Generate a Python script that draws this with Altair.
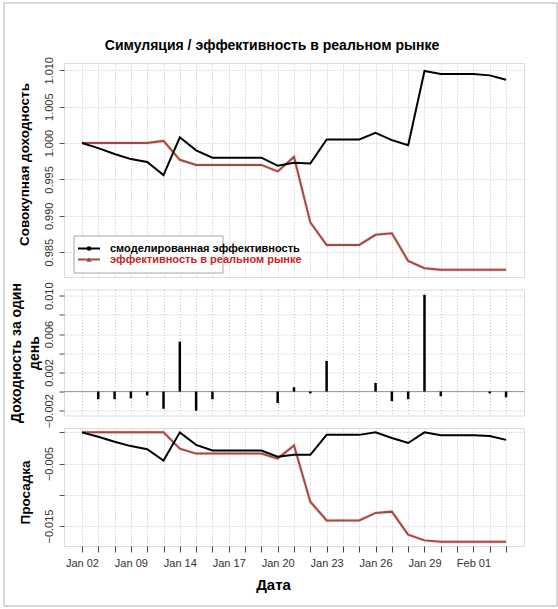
import json
import altair as alt
import pandas as pd

# ---------------- data ----------------
dates = ["Jan 02", "Jan 03", "Jan 07", "Jan 09", "Jan 10", "Jan 11", "Jan 14",
         "Jan 15", "Jan 16", "Jan 17", "Jan 18", "Jan 19", "Jan 20", "Jan 21",
         "Jan 22", "Jan 23", "Jan 24", "Jan 25", "Jan 26", "Jan 27", "Jan 28",
         "Jan 29", "Jan 30", "Jan 31", "Feb 01", "Feb 02", "Feb 03"]

sim_cum = [1.0000, 0.9993, 0.9985, 0.9978, 0.9974, 0.9956, 1.0008, 0.9990,
           0.9980, 0.9980, 0.9980, 0.9980, 0.9969, 0.9973, 0.9972, 1.0005,
           1.0005, 1.0005, 1.0014, 1.0004, 0.9997, 1.0099, 1.0095, 1.0095,
           1.0095, 1.0093, 1.0087]

real_cum = [1.0000, 1.0000, 1.0000, 1.0000, 1.0000, 1.0003, 0.9977, 0.9970,
            0.9970, 0.9970, 0.9970, 0.9970, 0.9961, 0.9981, 0.9891, 0.9860,
            0.9860, 0.9860, 0.9874, 0.9876, 0.9838, 0.9828, 0.9826, 0.9826,
            0.9826, 0.9826, 0.9826]

sim_ret = [None, -0.0008, -0.0008, -0.0007, -0.0004, -0.0018, 0.0052, -0.0020,
           -0.0008, 0.0, 0.0, 0.0, -0.0012, 0.00045, -0.0002, 0.0032,
           0.0, 0.0, 0.0009, -0.0010, -0.0008, 0.0101, -0.0005, 0.0,
           0.0, -0.0002, -0.0006]

sim_dd = [0.0, -0.0007, -0.0015, -0.0022, -0.0027, -0.0045, 0.0, -0.0020,
          -0.0029, -0.0029, -0.0029, -0.0029, -0.0039, -0.0036, -0.0036, -0.0004,
          -0.0004, -0.0004, 0.0, -0.0009, -0.0017, 0.0, -0.00045, -0.00045,
          -0.00045, -0.0006, -0.0012]

real_dd = [0.0, 0.0, 0.0, 0.0, 0.0, 0.0, -0.0026, -0.0034,
           -0.0034, -0.0034, -0.0034, -0.0034, -0.0042, -0.0021, -0.0111, -0.0141,
           -0.0141, -0.0141, -0.0129, -0.0127, -0.0164, -0.0173, -0.0175, -0.0175,
           -0.0175, -0.0175, -0.0175]

legend_labels = ["смоделированная эффективность", "эффективность в реальном рынке"]
title_text = "Симуляция / эффективность в реальном рынке"
y_titles = ["Совокупная доходность", ["Доходность за один", "день"], "Просадка"]
x_title = "Дата"

cum_ticks = [0.985, 0.990, 0.995, 1.000, 1.005, 1.010]
ret_ticks = [-0.002, 0.0, 0.002, 0.004, 0.006, 0.008, 0.010]
dd_ticks = [0.0, -0.005, -0.010, -0.015]

# ---------------- build ----------------
n = len(dates)
df = pd.DataFrame({
    "idx": list(range(n)),
    "date": dates,
    "sim_cum": sim_cum,
    "real_cum": real_cum,
    "sim_ret": sim_ret,
    "sim_dd": sim_dd,
    "real_dd": real_dd,
})

FONT = "Liberation Sans"
RED = "#a14a43"
HALO = "#f0b8b8"
LEG_RED = "#cc2222"
W = 460
H1, H2, H3 = 214, 126, 118

xscale = alt.Scale(domain=[-1.1, n + 0.1], nice=False, zero=False)
grid_kw = dict(grid=True, gridDash=[1, 2], gridColor="#c4c4c4", gridWidth=1)

x_plain = alt.X("idx:Q", scale=xscale,
                axis=alt.Axis(values=list(range(n)), labels=False, ticks=False,
                              domain=False, title=None, **grid_kw))

label_expr = ("datum.value % 3 == 0 ? " + json.dumps(dates, ensure_ascii=False)
              + "[datum.value] : ''")
x_bottom = alt.X("idx:Q", scale=xscale,
                 axis=alt.Axis(values=list(range(n)), labelExpr=label_expr,
                               labelOverlap=False, labelFlush=False,
                               ticks=True, tickSize=6, tickColor="#444",
                               labelPadding=5, labelFontSize=11, labelColor="#333",
                               labelFont=FONT, domain=False,
                               title=x_title, titleFont=FONT, titleFontSize=15,
                               titleFontWeight="bold", titleColor="#000",
                               titleX=209, titleY=38, titleBaseline="middle",
                               titleAlign="center", **grid_kw))


def yaxis(values, title, title_x, title_y, label_expr=None, fmt=".3f", size=13.5):
    kw = dict(values=values, format=fmt, labelAngle=270, labelAlign="center",
              labelBaseline="bottom", labelPadding=5, tickSize=5, tickColor="#555",
              labelColor="#333", labelFont=FONT, labelFontSize=11,
              labelOverlap=False, domain=False,
              title=title, titleAngle=270, titleAlign="center",
              titleBaseline="middle", titleFont=FONT, titleFontSize=size,
              titleFontWeight="bold", titleColor="#000",
              titleX=title_x, titleY=title_y, titleLineHeight=18, **grid_kw)
    if label_expr:
        kw["labelExpr"] = label_expr
    return alt.Axis(**kw)


one = pd.DataFrame({"z": [0]})

# ---- panel 1: cumulative return ----
y1_scale = alt.Scale(domain=[0.9816, 1.0110], nice=False, zero=False)
y1_axis = yaxis(cum_ticks, y_titles[0], -40, H1 / 2 - 6)

frame = alt.Chart(one).mark_rect(fillOpacity=0, stroke="#b0b0b0", strokeWidth=1).encode(
    x=alt.value(-60), x2=alt.value(493), y=alt.value(-60), y2=alt.value(543))

base1 = alt.Chart(df)
real_halo1 = base1.mark_line(color=HALO, strokeWidth=4, opacity=0.35).encode(
    x=x_plain, y=alt.Y("real_cum:Q", scale=y1_scale, axis=y1_axis))
real_line1 = base1.mark_line(color=RED, strokeWidth=2).encode(
    x=x_plain, y=alt.Y("real_cum:Q", scale=y1_scale, axis=y1_axis))
sim_line1 = base1.mark_line(color="#000", strokeWidth=2).encode(
    x=x_plain, y=alt.Y("sim_cum:Q", scale=y1_scale, axis=y1_axis))

leg_box = alt.Chart(one).mark_rect(fill="white", stroke="#a8a8a8", strokeWidth=1).encode(
    x=alt.value(10), x2=alt.value(159), y=alt.value(173), y2=alt.value(210))
leg1_df = pd.DataFrame({"label": [legend_labels[0]]})
leg2_df = pd.DataFrame({"label": [legend_labels[1]]})
leg1_line = alt.Chart(leg1_df).mark_rule(color="#000", strokeWidth=2).encode(
    x=alt.value(14), x2=alt.value(36), y=alt.value(185.5))
leg1_pt = alt.Chart(leg1_df).mark_point(filled=True, shape="circle", size=22,
                                        color="#000", opacity=1).encode(
    x=alt.value(25), y=alt.value(185.5))
leg1_txt = alt.Chart(leg1_df).mark_text(align="left", baseline="middle", font=FONT,
                                        fontSize=11, fontWeight="bold",
                                        color="#000").encode(
    x=alt.value(46), y=alt.value(185.5), text="label:N")
leg2_line = alt.Chart(leg2_df).mark_rule(color=RED, strokeWidth=2).encode(
    x=alt.value(14), x2=alt.value(36), y=alt.value(196.5))
leg2_pt = alt.Chart(leg2_df).mark_point(filled=True, shape="triangle-up", size=26,
                                        color=RED, opacity=1).encode(
    x=alt.value(25), y=alt.value(196.5))
leg2_txt = alt.Chart(leg2_df).mark_text(align="left", baseline="middle", font=FONT,
                                        fontSize=11, fontWeight="bold",
                                        color=LEG_RED).encode(
    x=alt.value(46), y=alt.value(197), text="label:N")

title_df = pd.DataFrame({"t": [title_text]})
title_mark = alt.Chart(title_df).mark_text(align="center", baseline="middle", font=FONT,
                                           fontSize=14, fontWeight="bold",
                                           color="#000").encode(
    x=alt.value(208), y=alt.value(-17), text="t:N")

panel1 = alt.layer(frame, real_halo1, real_line1, sim_line1, leg_box,
                   leg1_line, leg1_pt, leg1_txt, leg2_line, leg2_pt, leg2_txt,
                   title_mark).properties(width=W, height=H1)

# ---- panel 2: daily return ----
y2_scale = alt.Scale(domain=[-0.0025, 0.01065], nice=False, zero=False)
y2_axis = yaxis(ret_ticks, y_titles[1], -47.5, H2 / 2,
                label_expr="(round(datum.value * 1000) + 2) % 4 == 0 ? "
                           "format(datum.value, '.3f') : ''", size=14)
zero2 = alt.Chart(one).mark_rule(color="#9a9a9a", strokeWidth=1).encode(
    y=alt.Y("z:Q", scale=y2_scale, axis=y2_axis))
bars = alt.Chart(df).mark_rule(color="#000", strokeWidth=2.5).encode(
    x=x_plain, y=alt.Y("sim_ret:Q", scale=y2_scale, axis=y2_axis), y2=alt.datum(0))
panel2 = alt.layer(zero2, bars).properties(width=W, height=H2)

# ---- panel 3: drawdown ----
y3_scale = alt.Scale(domain=[-0.0182, 0.0007], nice=False, zero=False)
y3_axis = yaxis(dd_ticks, y_titles[2], -39, H3 / 2 + 5,
                label_expr="round(datum.value * 1000) % 10 != 0 ? "
                           "format(datum.value, '.3f') : ''")
zero3 = alt.Chart(one).mark_rule(color="#9a9a9a", strokeWidth=1).encode(
    x=x_bottom, y=alt.Y("z:Q", scale=y3_scale, axis=y3_axis))
base3 = alt.Chart(df)
real_halo3 = base3.mark_line(color=HALO, strokeWidth=4, opacity=0.35).encode(
    x=x_bottom, y=alt.Y("real_dd:Q", scale=y3_scale, axis=y3_axis))
real_line3 = base3.mark_line(color=RED, strokeWidth=2).encode(
    x=x_bottom, y=alt.Y("real_dd:Q", scale=y3_scale, axis=y3_axis))
sim_line3 = base3.mark_line(color="#000", strokeWidth=2).encode(
    x=x_bottom, y=alt.Y("sim_dd:Q", scale=y3_scale, axis=y3_axis))
panel3 = alt.layer(real_halo3, real_line3, sim_line3).properties(width=W, height=H3)

chart = alt.vconcat(panel1, panel2, panel3, spacing=12.5, bounds="flush").properties(
    padding={"left": 3, "top": 2, "right": 0, "bottom": 0},
    background="white",
).configure_view(stroke="#aaaaaa", strokeWidth=1).configure(font=FONT)

chart.save("out.html", embed_options={"renderer": "svg", "actions": False})
